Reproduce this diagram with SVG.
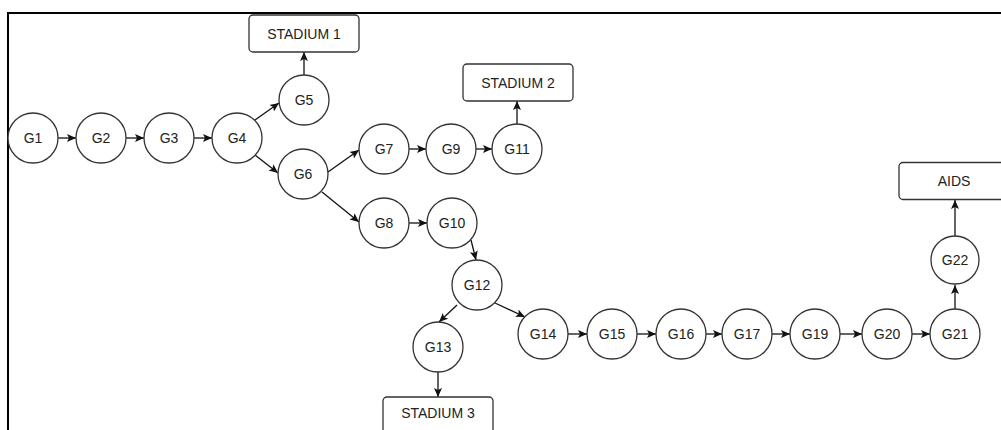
<svg xmlns="http://www.w3.org/2000/svg" width="1001" height="430" viewBox="0 0 1001 430">
<style>
.n{fill:#fff;stroke:#333;stroke-width:1.3}
.t{font-family:"Liberation Sans",Arial,sans-serif;font-size:14px;fill:#222;text-anchor:middle}
.e{stroke:#111;stroke-width:1.3;fill:none;marker-end:url(#a)}
</style>
<defs>
<marker id="a" markerUnits="userSpaceOnUse" markerWidth="10" markerHeight="10" refX="9" refY="4.5" orient="auto">
<path d="M0,0.5 L9,4.5 L0,8.5 L2,4.5 z" fill="#111"/>
</marker>
</defs>
<rect x="8" y="13" width="1010" height="430" fill="#fff" stroke="#000" stroke-width="2"/>
<g id="connectors">
<line class="e" x1="58" y1="138" x2="76" y2="138"/>
<line class="e" x1="126" y1="138" x2="144" y2="138"/>
<line class="e" x1="194" y1="138" x2="212" y2="138"/>
<line class="e" x1="255" y1="120" x2="279" y2="103"/>
<line class="e" x1="255" y1="155" x2="278" y2="173"/>
<line class="e" x1="304" y1="75" x2="304" y2="52"/>
<line class="e" x1="328" y1="172" x2="359" y2="150"/>
<line class="e" x1="322" y1="192" x2="359" y2="222"/>
<line class="e" x1="409" y1="149" x2="426" y2="149"/>
<line class="e" x1="476" y1="149" x2="492" y2="149"/>
<line class="e" x1="517" y1="124" x2="517" y2="101"/>
<line class="e" x1="409" y1="223" x2="427" y2="223"/>
<line class="e" x1="471" y1="240" x2="476" y2="260"/>
<line class="e" x1="457" y1="305" x2="439" y2="322"/>
<line class="e" x1="495" y1="303" x2="525" y2="317"/>
<line class="e" x1="438" y1="372" x2="438" y2="397"/>
<line class="e" x1="568" y1="334" x2="587" y2="334"/>
<line class="e" x1="637" y1="334" x2="656" y2="334"/>
<line class="e" x1="706" y1="334" x2="722" y2="334"/>
<line class="e" x1="772" y1="334" x2="790" y2="334"/>
<line class="e" x1="840" y1="334" x2="862" y2="334"/>
<line class="e" x1="912" y1="334" x2="930" y2="334"/>
<line class="e" x1="955" y1="309" x2="955" y2="285"/>
<line class="e" x1="955" y1="236" x2="955" y2="200"/>
</g>
<g id="stadium1"><rect class="n" x="249" y="15" width="110" height="37" rx="4"/><text class="t" x="304" y="38.5">STADIUM 1</text></g>
<g id="stadium2"><rect class="n" x="463" y="64" width="110" height="37" rx="4"/><text class="t" x="518" y="87.5">STADIUM 2</text></g>
<g id="stadium3"><rect class="n" x="383" y="397" width="110" height="37" rx="4"/><text class="t" x="438" y="418">STADIUM 3</text></g>
<g id="aids"><rect class="n" x="899" y="162.5" width="110" height="37" rx="4"/><text class="t" x="954" y="186">AIDS</text></g>
<g id="g1"><circle class="n" cx="33" cy="138" r="25"/><text class="t" x="33" y="143">G1</text></g>
<g id="g2"><circle class="n" cx="101" cy="138" r="25"/><text class="t" x="101" y="143">G2</text></g>
<g id="g3"><circle class="n" cx="169" cy="138" r="25"/><text class="t" x="169" y="143">G3</text></g>
<g id="g4"><circle class="n" cx="237" cy="138" r="25"/><text class="t" x="237" y="143">G4</text></g>
<g id="g5"><circle class="n" cx="304" cy="100" r="25"/><text class="t" x="304" y="105">G5</text></g>
<g id="g6"><circle class="n" cx="303" cy="174" r="25"/><text class="t" x="303" y="179">G6</text></g>
<g id="g7"><circle class="n" cx="384" cy="149" r="25"/><text class="t" x="384" y="154">G7</text></g>
<g id="g9"><circle class="n" cx="451" cy="149" r="25"/><text class="t" x="451" y="154">G9</text></g>
<g id="g11"><circle class="n" cx="517" cy="149" r="25"/><text class="t" x="517" y="154">G11</text></g>
<g id="g8"><circle class="n" cx="384" cy="223" r="25"/><text class="t" x="384" y="228">G8</text></g>
<g id="g10"><circle class="n" cx="452" cy="223" r="25"/><text class="t" x="452" y="228">G10</text></g>
<g id="g12"><circle class="n" cx="477" cy="285" r="25"/><text class="t" x="477" y="290">G12</text></g>
<g id="g13"><circle class="n" cx="438" cy="347" r="25"/><text class="t" x="438" y="352">G13</text></g>
<g id="g14"><circle class="n" cx="543" cy="334" r="25"/><text class="t" x="543" y="339">G14</text></g>
<g id="g15"><circle class="n" cx="612" cy="334" r="25"/><text class="t" x="612" y="339">G15</text></g>
<g id="g16"><circle class="n" cx="681" cy="334" r="25"/><text class="t" x="681" y="339">G16</text></g>
<g id="g17"><circle class="n" cx="747" cy="334" r="25"/><text class="t" x="747" y="339">G17</text></g>
<g id="g19"><circle class="n" cx="815" cy="334" r="25"/><text class="t" x="815" y="339">G19</text></g>
<g id="g20"><circle class="n" cx="887" cy="334" r="25"/><text class="t" x="887" y="339">G20</text></g>
<g id="g21"><circle class="n" cx="955" cy="334" r="25"/><text class="t" x="955" y="339">G21</text></g>
<g id="g22"><circle class="n" cx="955" cy="260" r="24"/><text class="t" x="955" y="265">G22</text></g>
</svg>
